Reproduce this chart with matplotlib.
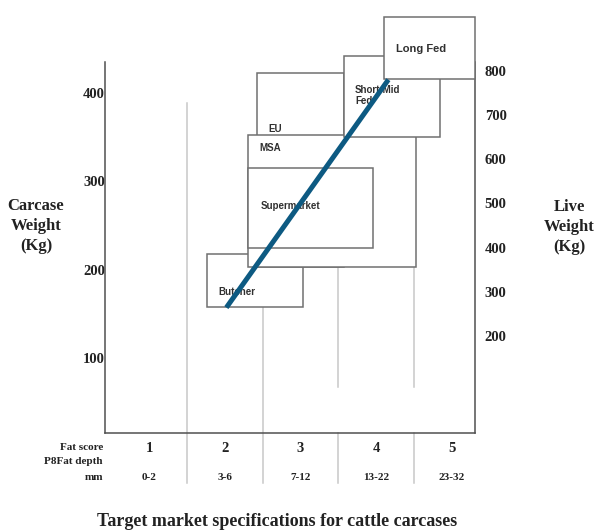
import matplotlib
matplotlib.use('Agg')
import matplotlib.pyplot as plt
from matplotlib.patches import Rectangle

# chart data
carcase_ticks = [100, 200, 300, 400]
live_ticks = [200, 300, 400, 500, 600, 700, 800]
fat_scores = [1, 2, 3, 4, 5]
fat_depths = ['0-2', '3-6', '7-12', '13-22', '23-32']

# market boxes: name, fat score range, carcase weight range (kg)
markets = ['Butcher', 'EU', 'MSA', 'Supermarket', 'Short-Mid\nFed', 'Long Fed']
fat_lo = [1.76, 2.43, 2.31, 2.31, 3.57, 4.10]
fat_hi = [3.03, 3.57, 4.52, 3.96, 4.84, 5.31]
kg_lo = [158, 203, 203, 225, 350, 416]
kg_hi = [218, 423, 352, 315, 442, 486]
label_x = [1.91, 2.57, 2.46, 2.48, 3.72, 4.26]
label_y = [175, 359, 338, 272, 397, 450]

# trend line (fat score vs carcase weight)
trend_x = [2.02, 4.16]
trend_y = [157, 415]

serif = 'Liberation Serif'
sans = 'Liberation Sans'

fig = plt.figure(figsize=(5.97, 5.30), dpi=100)
ax = fig.add_axes([0.1759, 0.183, 0.6198, 0.700])
ax.set_xlim(0.417, 5.305)
ax.set_ylim(15, 435)

ax.spines['top'].set_visible(False)
for s in ['left', 'bottom', 'right']:
    ax.spines[s].set_color('#505050')
    ax.spines[s].set_linewidth(1.1)

# grey column separators
grid_col = '#c8c8c8'
ax.plot([1.5, 1.5], [389, -42], color=grid_col, lw=1.1, clip_on=False, zorder=0)
ax.plot([2.5, 2.5], [203, -42], color=grid_col, lw=1.1, clip_on=False, zorder=0)
for xb in [3.5, 4.5]:
    ax.plot([xb, xb], [203, 67], color=grid_col, lw=1.1, zorder=0)
    ax.plot([xb, xb], [15, -42], color=grid_col, lw=1.1, clip_on=False, zorder=0)

for i, name in enumerate(markets):
    r = Rectangle((fat_lo[i], kg_lo[i]), fat_hi[i] - fat_lo[i], kg_hi[i] - kg_lo[i],
                  facecolor='white', edgecolor='#707070', lw=1.1, clip_on=False, zorder=2 + i)
    ax.add_patch(r)
    fs = 8 if name == 'Long Fed' else 7
    ax.text(label_x[i], label_y[i], name, fontsize=fs, fontweight='bold', family=sans,
            color='#303030', ha='left', va='center', linespacing=1.1, zorder=2 + i)

ax.plot(trend_x, trend_y, color='#0d5a82', lw=3.6, solid_capstyle='butt', zorder=20)

ax.set_xticks([])
ax.set_yticks(carcase_ticks)
ax.set_yticklabels([str(t) for t in carcase_ticks], fontsize=10.5, fontweight='bold', family=serif)
ax.tick_params(axis='y', length=0, pad=0, labelcolor='#222222')

sec = ax.secondary_yaxis('right', functions=(lambda c: 2 * (c - 25), lambda l: l / 2 + 25))
sec.set_yticks(live_ticks)
sec.set_yticklabels([str(t) for t in live_ticks], fontsize=10.5, fontweight='bold', family=serif)
sec.tick_params(length=0, pad=7, labelcolor='#222222')
sec.spines['right'].set_visible(False)

# fat score row under the axis
for i, fsc in enumerate(fat_scores):
    ax.text(fsc, -2, str(fsc), fontsize=10.5, fontweight='bold', family=serif,
            ha='center', va='center', color='#222222', clip_on=False)
    ax.text(fsc, -35, fat_depths[i], fontsize=8, fontweight='bold', family=serif,
            ha='center', va='center', color='#222222', clip_on=False)

fig.text(0.1725, 1 - 447 / 530, 'Fat score', fontsize=8, fontweight='bold', family=serif,
         ha='right', va='center', color='#222222')
fig.text(0.1725, 1 - 462 / 530, 'P8Fat depth', fontsize=8, fontweight='bold', family=serif,
         ha='right', va='center', color='#222222')
fig.text(0.1725, 1 - 478 / 530, 'mm', fontsize=8, fontweight='bold', family=serif,
         ha='right', va='center', color='#222222')

fig.text(36 / 597, 1 - 226 / 530, 'Carcase\nWeight\n(Kg)', fontsize=12, fontweight='bold',
         family=serif, ha='center', va='center', linespacing=1.3, color='#222222')
fig.text(569 / 597, 1 - 227 / 530, 'Live\nWeight\n(Kg)', fontsize=12, fontweight='bold',
         family=serif, ha='center', va='center', linespacing=1.3, color='#222222')

fig.text(277 / 597, 1 - 521 / 530, 'Target market specifications for cattle carcases',
         fontsize=13, fontweight='bold', family=serif, ha='center', va='center', color='#222222')

fig.savefig('out.png', dpi=100)
